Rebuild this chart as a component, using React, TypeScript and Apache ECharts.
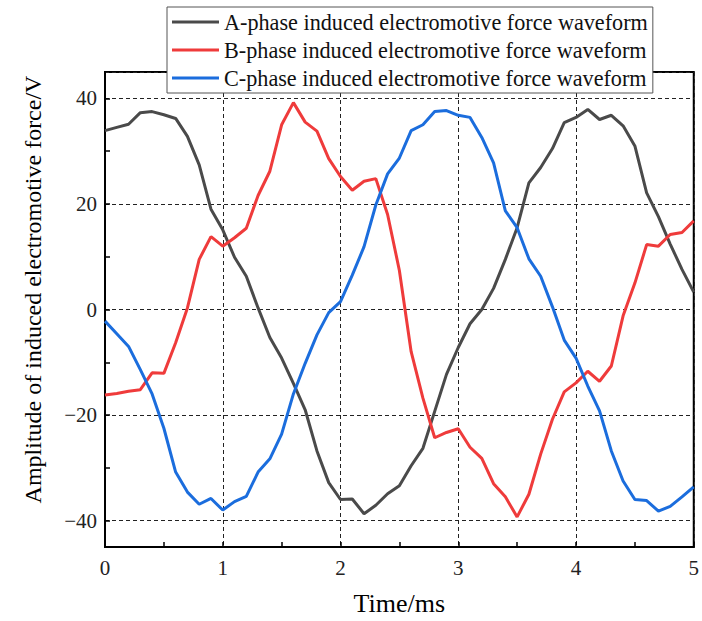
import React, { useEffect, useRef } from "react";
import * as echarts from "echarts";

// Time axis samples (ms)
const time = [
  0, 0.1, 0.2, 0.3, 0.4, 0.5, 0.6, 0.7, 0.8, 0.9,
  1, 1.1, 1.2, 1.3, 1.4, 1.5, 1.6, 1.7, 1.8, 1.9,
  2, 2.1, 2.2, 2.3, 2.4, 2.5, 2.6, 2.7, 2.8, 2.9,
  3, 3.1, 3.2, 3.3, 3.4, 3.5, 3.6, 3.7, 3.8, 3.9,
  4, 4.1, 4.2, 4.3, 4.4, 4.5, 4.6, 4.7, 4.8, 4.9,
  5,
];

const phaseA = [
  33.9, 34.5, 35.1, 37.3, 37.5, 36.9, 36.2, 32.8, 27.4, 19.0,
  15.1, 9.9, 6.3, 0.3, -5.3, -9.2, -14.0, -19.0, -26.8, -32.8,
  -36.0, -35.9, -38.7, -37.1, -34.9, -33.4, -29.6, -26.3, -19.3, -12.3,
  -7.2, -2.7, 0.0, 4.0, 9.5, 15.5, 24.0, 26.9, 30.5, 35.4,
  36.4, 37.9, 36.0, 36.8, 34.8, 31.0, 22.1, 17.6, 12.4, 7.6,
  3.3,
];

const phaseB = [
  -16.2, -15.9, -15.5, -15.2, -12.0, -12.1, -6.3, 0.3, 9.5, 13.8,
  12.0, 13.6, 15.4, 21.6, 26.2, 35.0, 39.2, 35.5, 33.8, 28.6,
  25.2, 22.6, 24.3, 24.8, 18.0, 7.4, -8.0, -16.8, -24.3, -23.3,
  -22.6, -26.1, -28.2, -33.0, -35.5, -39.3, -35.0, -27.4, -20.8, -15.6,
  -13.9, -11.7, -13.6, -10.7, -1.2, 5.0, 12.3, 12.0, 14.2, 14.6,
  16.8,
];

const phaseC = [
  -2.2, -4.6, -7.0, -11.4, -16.0, -22.5, -30.8, -34.6, -36.9, -35.8,
  -38.0, -36.4, -35.4, -30.8, -28.3, -23.6, -16.0, -10.2, -4.8, -0.6,
  1.5, 6.5, 11.9, 19.8, 25.7, 28.7, 33.9, 35.0, 37.5, 37.7,
  36.8, 36.4, 32.6, 27.8, 18.7, 15.5, 9.6, 6.3, 0.5, -5.8,
  -9.2, -14.5, -19.2, -26.8, -32.5, -36.0, -36.2, -38.2, -37.3, -35.5,
  -33.6,
];

const seriesNames = [
  "A-phase induced electromotive force waveform",
  "B-phase induced electromotive force waveform",
  "C-phase induced electromotive force waveform",
];
const seriesColors = ["#4a4a4a", "#ef3b3b", "#1b6ddd"];

const yLabelValues = [-40, -20, 0, 20, 40];
const yTickValues = [-40, -30, -20, -10, 0, 10, 20, 30, 40];

const xName = "Time/ms";
const yName = "Amplitude of induced electromotive force/V";

export default function App() {
  const ref = useRef<HTMLDivElement>(null);

  useEffect(() => {
    if (!ref.current) return;
    document.body.style.margin = "0";
    document.body.style.overflow = "hidden";
    const chart = echarts.init(ref.current, null, { renderer: "svg" });
    const font = "'Liberation Serif', 'Times New Roman', serif";
    const values = [phaseA, phaseB, phaseC];

    chart.setOption({
      animation: false,
      grid: {
        left: 105,
        right: 4,
        top: 72,
        bottom: 71,
        show: true,
        borderColor: "#000",
        borderWidth: 2,
        backgroundColor: "transparent",
      },
      legend: {
        orient: "vertical",
        left: 167,
        top: 7,
        icon: "rect",
        itemWidth: 47,
        itemHeight: 3,
        itemGap: 6,
        padding: [4, 5, 4, 5],
        backgroundColor: "#fff",
        borderColor: "#555",
        borderWidth: 1,
        textStyle: { fontFamily: font, fontSize: 22.2, color: "#111" },
        data: seriesNames,
      },
      xAxis: {
        type: "value",
        min: 0,
        max: 5,
        interval: 1,
        name: xName,
        nameLocation: "middle",
        nameGap: 43,
        nameTextStyle: { fontFamily: font, fontSize: 26, color: "#000" },
        axisLine: { onZero: false, lineStyle: { color: "#000", width: 2 } },
        axisTick: { inside: true, length: 5, lineStyle: { color: "#000", width: 1.5 } },
        minorTick: { show: true, splitNumber: 2, length: 5, lineStyle: { color: "#000", width: 1.5 } },
        axisLabel: { fontFamily: font, fontSize: 21, color: "#222", margin: 10 },
        splitLine: { show: true, lineStyle: { type: [4, 3], color: "#222", width: 1 } },
      },
      yAxis: [
        {
          type: "value",
          min: -45,
          max: 45,
          position: "left",
          name: yName,
          nameLocation: "middle",
          nameGap: 60,
          nameTextStyle: { fontFamily: font, fontSize: 24, color: "#000", padding: [0, 0, 0, 40] },
          axisLine: { show: true, onZero: false, lineStyle: { color: "#000", width: 2 } },
          axisTick: {
            show: true,
            inside: true,
            length: 5,
            customValues: yTickValues,
            lineStyle: { color: "#000", width: 1.5 },
          },
          axisLabel: {
            customValues: yLabelValues,
            fontFamily: font,
            fontSize: 21,
            color: "#222",
            margin: 8,
            formatter: (v: number) => String(v).replace("-", "\u2212"),
          },
          splitLine: { show: false },
        },
        {
          type: "value",
          min: -45,
          max: 45,
          position: "right",
          axisLine: { show: false },
          axisTick: { show: false },
          axisLabel: { show: false },
          splitLine: { show: true, lineStyle: { type: [4, 3], color: "#222", width: 1 } },
        },
      ],
      series: values.map((vals, k) => ({
        name: seriesNames[k],
        type: "line",
        yAxisIndex: 0,
        symbol: "none",
        color: seriesColors[k],
        lineStyle: { width: 3, color: seriesColors[k] },
        data: time.map((t, i) => [t, vals[i]]),
      })),
    });

    return () => chart.dispose();
  }, []);

  return (
    <div
      ref={ref}
      style={{ position: "absolute", left: 0, top: 0, width: 702, height: 621, background: "#fff" }}
    />
  );
}
